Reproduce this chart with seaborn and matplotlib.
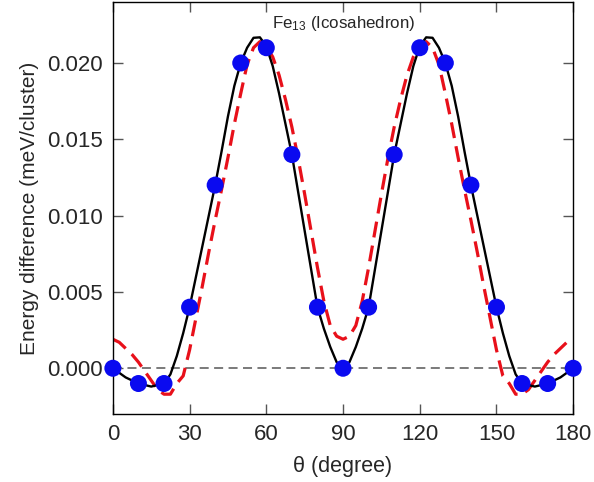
import numpy as np
import pandas as pd
import seaborn as sns
import matplotlib
matplotlib.use('Agg')
import matplotlib.pyplot as plt

# 计算得到的点 (每 10 度一个)
theta_pts = [0, 10, 20, 30, 40, 50, 60, 70, 80, 90, 100, 110, 120, 130, 140, 150, 160, 170, 180]
energy_pts = [0.000, -0.001, -0.001, 0.004, 0.012, 0.020, 0.021, 0.014, 0.004, 0.000,
              0.004, 0.014, 0.021, 0.020, 0.012, 0.004, -0.001, -0.001, 0.000]

# 两条拟合曲线, 从图上每 2.5 度读一个值
theta_fit = np.arange(0, 180.1, 2.5)
black_fit = [0.0000, -0.0003, -0.0006, -0.0008, -0.0010, -0.0011, -0.0012, -0.0011, -0.0010,
             -0.0004, 0.0008, 0.0023, 0.0040, 0.0060, 0.0080, 0.0100, 0.0120, 0.0142,
             0.0165, 0.0185, 0.0200, 0.0210, 0.02165, 0.02168, 0.0211, 0.0198, 0.0180,
             0.0160, 0.0140, 0.0115, 0.0090, 0.0065, 0.0040, 0.0026, 0.0014, 0.0004,
             0.0000,
             0.0004, 0.0014, 0.0026, 0.0040, 0.0065, 0.0090, 0.0115, 0.0140, 0.0160,
             0.0180, 0.0198, 0.0211, 0.02168, 0.02165, 0.0210, 0.0200, 0.0185, 0.0165,
             0.0142, 0.0120, 0.0100, 0.0080, 0.0060, 0.0040, 0.0023, 0.0008, -0.0004,
             -0.0010, -0.0011, -0.0012, -0.0011, -0.0010, -0.0008, -0.0006, -0.0003, 0.0000]
red_fit = [0.0019, 0.0017, 0.0013, 0.0009, 0.0004, -0.0002, -0.0008, -0.0014, -0.0017,
           -0.0017, -0.0010, -0.0005, 0.0012, 0.0033, 0.0054, 0.0076, 0.0097, 0.0117,
           0.0138, 0.0160, 0.0180, 0.0199, 0.0210, 0.0214, 0.0211, 0.0204, 0.0192,
           0.0176, 0.0158, 0.0137, 0.0114, 0.0090, 0.0066, 0.0044, 0.0028, 0.0021,
           0.0019,
           0.0021, 0.0028, 0.0044, 0.0066, 0.0090, 0.0114, 0.0137, 0.0158, 0.0176,
           0.0192, 0.0204, 0.0211, 0.0214, 0.0210, 0.0199, 0.0180, 0.0160, 0.0138,
           0.0117, 0.0097, 0.0076, 0.0054, 0.0033, 0.0012, -0.0005, -0.0010, -0.0017,
           -0.0017, -0.0014, -0.0008, -0.0002, 0.0004, 0.0009, 0.0013, 0.0017, 0.0019]

xticks = [0, 30, 60, 90, 120, 150, 180]
yticks = [0.000, 0.005, 0.010, 0.015, 0.020]

sns.set_style('ticks')
plt.rcParams['font.family'] = ['Liberation Sans', 'DejaVu Sans']
plt.rcParams['mathtext.default'] = 'regular'

fig = plt.figure(figsize=(5.94, 4.82), dpi=100)
ax = fig.add_axes([0.190, 0.141, 0.775, 0.855])

# 零线
ax.axhline(0, color='#707070', lw=1.3, ls=(0, (5, 3)), zorder=1)

df = pd.DataFrame({'theta': theta_fit, 'black': black_fit, 'red': red_fit})
sns.lineplot(data=df, x='theta', y='red', color='#e8101a', lw=2.3, ax=ax, zorder=2)
ax.lines[-1].set_dashes([5, 2.6])
sns.lineplot(data=df, x='theta', y='black', color='black', lw=1.7, ax=ax, zorder=3)

pts = pd.DataFrame({'theta': theta_pts, 'energy': energy_pts})
sns.scatterplot(data=pts, x='theta', y='energy', color='#0a0af0', s=150,
                edgecolor='none', ax=ax, zorder=4, clip_on=False)

ax.set_xlim(0, 180)
ax.set_ylim(-0.0030, 0.0240)
ax.set_xticks(xticks)
ax.set_yticks(yticks)
ax.set_yticklabels(['%.3f' % v for v in yticks])
ax.tick_params(direction='in', length=7, width=1, color='#555555',
               top=True, right=True, labelsize=16, pad=7)
for s in ax.spines.values():
    s.set_linewidth(1)
    s.set_color('black')

ax.set_xlabel('\u03b8 (degree)', fontsize=15.5, labelpad=8)
ax.set_ylabel('Energy difference (meV/cluster)', fontsize=15, labelpad=6)
ax.text(90.3, 0.0226, r'Fe$_{13}$ (Icosahedron)', ha='center', va='center', fontsize=12.2)

fig.savefig('out.png', dpi=100)
